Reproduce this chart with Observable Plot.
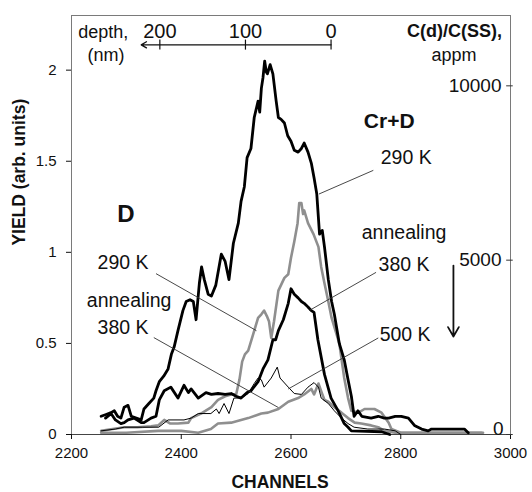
<!DOCTYPE html>
<html><head><meta charset="utf-8">
<script src="https://cdn.jsdelivr.net/npm/d3@7"></script>
<script src="https://cdn.jsdelivr.net/npm/@observablehq/plot@0.6"></script>
<style>body{margin:0;background:#fff;} svg{display:block}</style>
</head><body><div id="chart"></div>
<script>
// ---- data: [channel, yield] ----
const crD290 = [[2254,.10],[2263,.11],[2272,.12],[2278,.13],[2284,.10],[2290,.09],[2296,.15],[2303,.16],[2309,.10],[2318,.09],[2327,.08],[2332,.14],[2341,.17],[2350,.20],[2354,.24],[2360,.29],[2368,.32],[2376,.36],[2382,.44],[2387,.48],[2394,.57],[2403,.68],[2409,.73],[2416,.74],[2422,.73],[2427,.63],[2433,.83],[2437,.92],[2442,.85],[2449,.77],[2455,.76],[2463,.82],[2473,.99],[2480,.95],[2487,.85],[2495,1.05],[2504,1.16],[2509,1.28],[2515,1.36],[2520,1.52],[2527,1.57],[2533,1.74],[2540,1.83],[2543,1.77],[2546,1.90],[2549,1.96],[2552,2.05],[2555,1.99],[2557,1.98],[2562,2.03],[2567,1.98],[2573,1.83],[2577,1.74],[2582,1.73],[2588,1.71],[2594,1.64],[2600,1.61],[2606,1.56],[2613,1.55],[2619,1.57],[2624,1.60],[2631,1.55],[2637,1.49],[2642,1.41],[2647,1.32],[2652,1.10],[2657,1.12],[2661,1.03],[2668,.85],[2674,.73],[2679,.66],[2688,.50],[2697,.41],[2704,.30],[2710,.21],[2715,.10],[2722,.13],[2729,.10],[2746,.09],[2759,.10],[2770,.09],[2778,.09],[2790,.10],[2801,.10],[2814,.09],[2825,.05],[2838,.03],[2850,.02],[2856,.03],[2869,.03],[2916,.03],[2923,.01]];
const crDAnneal380 = [[2254,.02],[2275,.03],[2296,.04],[2320,.04],[2345,.045],[2358,.05],[2369,.08],[2380,.06],[2394,.06],[2413,.065],[2418,.09],[2436,.115],[2455,.15],[2467,.19],[2480,.21],[2491,.22],[2500,.22],[2506,.30],[2511,.40],[2516,.44],[2522,.46],[2531,.55],[2540,.64],[2546,.66],[2551,.68],[2556,.65],[2560,.62],[2564,.53],[2569,.62],[2577,.79],[2588,.86],[2595,.88],[2600,.97],[2606,1.06],[2612,1.16],[2615,1.27],[2619,1.27],[2622,1.21],[2624,1.23],[2631,1.16],[2641,1.10],[2650,1.03],[2655,.92],[2661,.83],[2668,.73],[2674,.64],[2688,.50],[2697,.31],[2704,.20],[2710,.13],[2723,.12],[2734,.14],[2752,.14],[2765,.12],[2778,.065],[2783,.03],[2800,.01],[2947,.01]];
const d290 = [[2262,.09],[2272,.115],[2280,.08],[2290,.06],[2296,.065],[2303,.08],[2314,.09],[2327,.065],[2332,.065],[2345,.09],[2354,.10],[2360,.19],[2369,.24],[2381,.26],[2394,.20],[2405,.27],[2413,.23],[2418,.25],[2431,.20],[2445,.23],[2455,.22],[2467,.225],[2480,.22],[2491,.225],[2500,.21],[2509,.20],[2520,.23],[2527,.24],[2540,.29],[2549,.36],[2558,.41],[2567,.52],[2572,.52],[2577,.57],[2586,.63],[2595,.72],[2600,.80],[2606,.77],[2613,.75],[2619,.73],[2624,.72],[2631,.70],[2637,.68],[2642,.67],[2649,.52],[2661,.33],[2673,.20],[2686,.13],[2697,.06],[2704,.04],[2710,.02],[2765,.015],[2780,0]];
const dAnneal380 = [[2254,.01],[2300,.01],[2358,.02],[2400,.02],[2431,.01],[2454,.03],[2467,.06],[2491,.065],[2522,.09],[2546,.115],[2558,.12],[2577,.14],[2595,.18],[2613,.20],[2624,.22],[2637,.25],[2642,.22],[2650,.28],[2656,.23],[2661,.19],[2668,.18],[2679,.15],[2692,.12],[2704,.09],[2716,.065],[2728,.06],[2746,.05],[2759,.04],[2770,.02],[2790,.01],[2950,.01]];
const anneal500 = [[2254,.02],[2280,.03],[2296,.04],[2330,.04],[2359,.04],[2376,.08],[2405,.08],[2418,.09],[2431,.115],[2454,.115],[2464,.14],[2469,.115],[2478,.17],[2487,.115],[2496,.20],[2509,.20],[2522,.225],[2533,.28],[2540,.31],[2546,.30],[2551,.26],[2564,.31],[2575,.37],[2580,.31],[2595,.26],[2606,.225],[2619,.22],[2631,.26],[2642,.285],[2650,.26],[2655,.20],[2668,.17],[2679,.13],[2692,.09],[2704,.06],[2715,.04],[2740,.03],[2770,.03],[2790,.02],[2800,0]];

// ---- axes ----
const xTicks = [2200,2400,2600,2800,3000];
const yTicks = [0,0.5,1,1.5,2];
const appmTicks = [0,5000,10000];
const appmPerYield = 5225;          // 10000 appm sits at yield ≈ 1.914
const depthTicks = [200,100,0];
const depthZeroChannel = 2673, channelsPerNm = 1.56;

// ---- annotations (anchored in data units) ----
const boldLabels = [
  {text:"Cr+D", c:2779, y:1.717, size:21},
  {text:"D", c:2299, y:1.207, size:24}
];
const plainLabels = [
  {text:"290 K", c:2810, y:1.52},
  {text:"annealing", c:2806, y:1.108},
  {text:"380 K", c:2806, y:0.93},
  {text:"500 K", c:2808, y:0.55},
  {text:"290 K", c:2294, y:0.943},
  {text:"annealing", c:2305, y:0.735},
  {text:"380 K", c:2294, y:0.587}
];
const leaders = [
  {c1:2651, y1:1.32, c2:2750, y2:1.45},
  {c1:2633, y1:0.68, c2:2755, y2:0.89},
  {c1:2595, y1:0.25, c2:2759, y2:0.53},
  {c1:2354, y1:0.883, c2:2537, y2:0.57},
  {c1:2350, y1:0.532, c2:2577, y2:0.148}
];

const toRows = arr => arr.map(([c, y]) => ({c, y}));
const GRAY = "#8f8f8f";
const font = "'Liberation Sans', Arial, sans-serif";

const chart = Plot.plot({
  width: 532, height: 492,
  marginLeft: 71, marginRight: 22, marginTop: 15, marginBottom: 58,
  style: {fontFamily: font, color: "#111", background: "#fff", overflow: "visible"},
  x: {domain: [2200, 3000]},
  y: {domain: [0, 2.3]},
  marks: [
    Plot.frame({stroke: "#7a7a7a"}),
    Plot.ruleY([0], {stroke: "#444"}),
    Plot.axisX({ticks: xTicks, tickSize: 5, tickPadding: 8, fontSize: 15, label: null, tickFormat: d => String(d)}),
    Plot.axisY({ticks: yTicks, tickSize: 5, tickPadding: 10, fontSize: 15, label: null, tickFormat: d => String(d)}),
    // right appm axis
    Plot.ruleY(appmTicks, {y: d => d / appmPerYield, x1: 2993, x2: 3005, stroke: "#333"}),
    Plot.text(appmTicks.filter(d => d > 0), {y: d => d / appmPerYield, frameAnchor: "right", textAnchor: "end", dx: -9, fontSize: 19, text: d => String(d)}),
    Plot.text(appmTicks.filter(d => d === 0), {y: d => d / appmPerYield, frameAnchor: "right", textAnchor: "end", dx: -7, dy: -6, fontSize: 19, text: d => String(d)}),
    Plot.text(["C(d)/C(SS),"], {x: () => 2898, y: () => 2.214, fontSize: 18, fontWeight: "bold"}),
    Plot.text(["appm"], {x: () => 2897, y: () => 2.084, fontSize: 18}),
    // top depth axis
    Plot.arrow([0], {x1: () => depthZeroChannel, x2: () => 2327, y1: () => 2.139, y2: () => 2.139, headLength: 7, strokeWidth: 1.3, stroke: "#111"}),
    Plot.ruleX(depthTicks, {x: d => depthZeroChannel - channelsPerNm * d, y1: 2.165, y2: 2.11, stroke: "#111", strokeWidth: 1.2}),
    Plot.text(depthTicks, {x: d => depthZeroChannel - channelsPerNm * d, y: () => 2.21, text: d => String(d), fontSize: 20}),
    Plot.text(["depth,"], {x: () => 2258, y: () => 2.21, fontSize: 18}),
    Plot.text(["(nm)"], {x: () => 2263, y: () => 2.084, fontSize: 18}),
    // curves
    Plot.line(toRows(dAnneal380), {x: "c", y: "y", stroke: GRAY, strokeWidth: 2.6}),
    Plot.line(toRows(crDAnneal380), {x: "c", y: "y", stroke: GRAY, strokeWidth: 2.6}),
    Plot.line(toRows(anneal500), {x: "c", y: "y", stroke: "#000", strokeWidth: 1}),
    Plot.line(toRows(d290), {x: "c", y: "y", stroke: "#000", strokeWidth: 2.8}),
    Plot.line(toRows(crD290), {x: "c", y: "y", stroke: "#000", strokeWidth: 2.8}),
    // annotations
    Plot.link(leaders, {x1: "c1", y1: "y1", x2: "c2", y2: "y2", stroke: "#333", strokeWidth: 0.9}),
    Plot.text(plainLabels, {x: "c", y: "y", text: "text", fontSize: 19.5}),
    Plot.text(boldLabels, {x: "c", y: "y", text: "text", fontSize: "size", fontWeight: "bold"}),
    Plot.arrow([0], {x1: () => 2896, x2: () => 2896, y1: () => 0.927, y2: () => 0.538, headLength: 9, strokeWidth: 1.8, stroke: "#111"}),
    // axis titles
    Plot.text(["CHANNELS"], {x: () => 2580, frameAnchor: "bottom", dy: 53, fontSize: 17.5, fontWeight: "bold"}),
    Plot.text(["YIELD (arb. units)"], {y: () => 1.037, frameAnchor: "left", dx: -52, rotate: -90, fontSize: 17.5, fontWeight: "bold"})
  ]
});
document.getElementById("chart").appendChild(chart);
</script>
</body></html>
